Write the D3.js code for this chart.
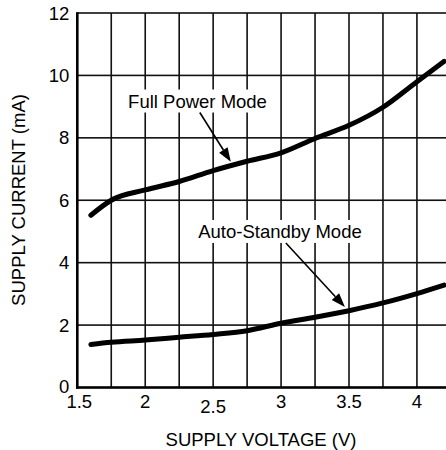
<!DOCTYPE html>
<html>
<head>
<meta charset="utf-8">
<script src="https://cdn.jsdelivr.net/npm/d3@7"></script>
<style>
  html, body { margin: 0; padding: 0; background: #fff; }
  svg { display: block; }
  text { font-family: "Liberation Sans", Arial, Helvetica, sans-serif; fill: #000; }
</style>
</head>
<body>
<svg id="chart" width="446" height="450"></svg>
<script>
// ---- data ----
const fullPowerV = [1.6, 1.75, 2.0, 2.25, 2.5, 2.75, 3.0, 3.25, 3.5, 3.75, 4.0, 4.2];
const fullPowerI = [5.52, 6.0, 6.33, 6.6, 6.95, 7.25, 7.52, 7.98, 8.4, 8.98, 9.8, 10.45];
const standbyV = [1.6, 1.75, 2.0, 2.25, 2.5, 2.75, 3.0, 3.25, 3.5, 3.75, 4.0, 4.2];
const standbyI = [1.38, 1.45, 1.52, 1.61, 1.70, 1.82, 2.06, 2.25, 2.46, 2.71, 3.01, 3.28];
const xTicks = [1.5, 2, 2.5, 3, 3.5, 4];
const xTickLabels = ["1.5", "2", "2.5", "3", "3.5", "4"];
const xGrid = [1.75, 2, 2.25, 2.5, 2.75, 3, 3.25, 3.5, 3.75, 4, 4.25];
const yTicks = [0, 2, 4, 6, 8, 10, 12];
const yTickLabels = ["0", "2", "4", "6", "8", "10", "12"];
const annotationText = ["Full Power Mode", "Auto-Standby Mode"];
const annotationLabelV = [2.385, 2.992];
const annotationLabelI = [9.18, 5.0];
const annotationTipV = [2.63, 3.47];
const annotationTipI = [7.23, 2.58];
const xTitle = "SUPPLY VOLTAGE (V)";
const yTitle = "SUPPLY CURRENT (mA)";

// ---- layout ----
const svg = d3.select("#chart");
const plotLeft = 77.3, plotTop = 13, plotBottom = 387.5;
const x = d3.scaleLinear().domain([1.5, 4.25]).range([plotLeft, plotLeft + 2.75 * 135.85]);
const y = d3.scaleLinear().domain([0, 12]).range([plotBottom, plotTop]);
const W = 446;
const fontSize = 18.5;

// plot rectangle background (debug-visible grid)
svg.append("g").selectAll("rect.vg").data(xGrid).join("rect")
  .attr("class", "vg")
  .attr("x", d => x(d) - 0.8).attr("y", plotTop).attr("width", 1.6).attr("height", plotBottom - plotTop)
  .attr("fill", "#111");
svg.append("g").selectAll("rect.hg").data(yTicks.filter(d => d > 0)).join("rect")
  .attr("class", "hg")
  .attr("x", plotLeft).attr("y", d => y(d) - 0.8).attr("width", W + 10 - plotLeft).attr("height", 1.6)
  .attr("fill", "#111");
// axes
svg.append("rect").attr("x", plotLeft - 1.3).attr("y", plotTop - 0.8).attr("width", 2.6).attr("height", plotBottom - plotTop + 2)
  .attr("fill", "#000");
svg.append("rect").attr("x", plotLeft - 1.3).attr("y", plotBottom - 1.3).attr("width", W + 10 - plotLeft).attr("height", 2.6)
  .attr("fill", "#000");

// tick labels
svg.append("g").selectAll("text").data(xTicks).join("text")
  .attr("x", d => x(d) + (d === 1.5 ? 2 : 0))
  .attr("y", d => y(0) + 20 + (d === 2.5 ? 5 : 0))
  .attr("text-anchor", "middle")
  .attr("font-size", fontSize)
  .text((d, i) => xTickLabels[i]);
svg.append("g").selectAll("text").data(yTicks).join("text")
  .attr("x", plotLeft - 8)
  .attr("y", d => y(d) + 6.5 - (d === 0 ? 1.5 : 0))
  .attr("text-anchor", "end")
  .attr("font-size", fontSize)
  .text((d, i) => yTickLabels[i]);

// axis titles
svg.append("text").attr("x", 261).attr("y", 446)
  .attr("text-anchor", "middle").attr("font-size", fontSize).text(xTitle);
svg.append("text").attr("transform", "translate(25,200) rotate(-90)")
  .attr("text-anchor", "middle").attr("font-size", fontSize).text(yTitle);

// curves
const lineGen = d3.line().x(d => x(d[0])).y(d => y(d[1])).curve(d3.curveMonotoneX);
const series = [
  d3.zip(fullPowerV, fullPowerI),
  d3.zip(standbyV, standbyI)
];
svg.append("g").selectAll("path").data(series).join("path")
  .attr("d", lineGen)
  .attr("fill", "none").attr("stroke", "#000")
  .attr("stroke-width", 5).attr("stroke-linecap", "round").attr("stroke-linejoin", "round");

// annotations
const ann = annotationText.map((t, i) => ({
  t, lx: x(annotationLabelV[i]), ly: y(annotationLabelI[i]),
  tx: x(annotationTipV[i]), ty: y(annotationTipI[i])
}));
ann.forEach(a => {
  const g = svg.append("g");
  const txt = g.append("text").attr("x", a.lx).attr("y", a.ly + 6.5)
    .attr("text-anchor", "middle").attr("font-size", fontSize).text(a.t);
  const bb = txt.node().getBBox();
  g.insert("rect", "text").attr("x", bb.x - 3).attr("y", bb.y - 1)
    .attr("width", bb.width + 6).attr("height", bb.height + 2).attr("fill", "#fff");
  const sy = bb.y + bb.height + 1;
  const dx = a.tx - a.lx, dy = a.ty - a.ly;
  const t0 = (sy - a.ly) / dy;
  const sx = a.lx + dx * t0 - 4;
  const ang = Math.atan2(a.ty - sy, a.tx - sx);
  const hl = 14, hw = 5;
  const bx = a.tx - hl * Math.cos(ang), by = a.ty - hl * Math.sin(ang);
  g.append("path").attr("d", `M${sx},${sy}L${bx},${by}`)
    .attr("stroke", "#000").attr("stroke-width", 1.6).attr("fill", "none");
  g.append("path")
    .attr("d", `M${a.tx},${a.ty}L${bx + hw * Math.sin(ang)},${by - hw * Math.cos(ang)}L${bx - hw * Math.sin(ang)},${by + hw * Math.cos(ang)}Z`)
    .attr("fill", "#000");
});
</script>
</body>
</html>
